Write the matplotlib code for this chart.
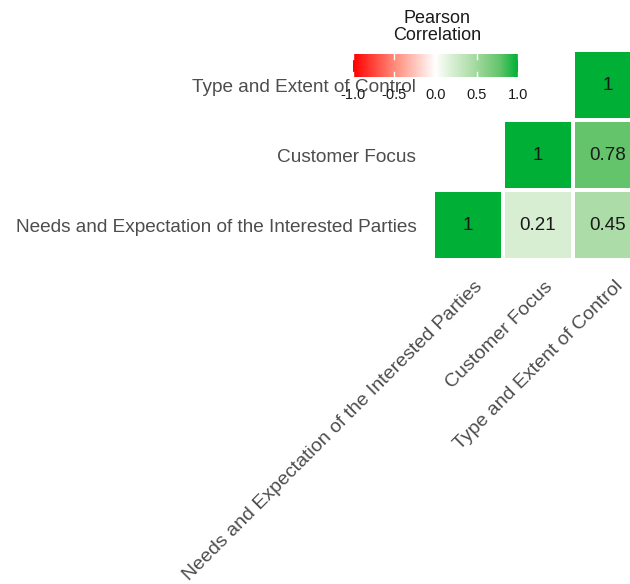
import numpy as np
import matplotlib
matplotlib.use("Agg")
from matplotlib import pyplot
from matplotlib.colors import LinearSegmentedColormap
import matplotlib.transforms as mtransforms

pyplot.rcParams["font.family"] = ["Liberation Sans", "DejaVu Sans"]

# 変数名(下から順)
variables = [
    "Needs and Expectation of the Interested Parties",
    "Customer Focus",
    "Type and Extent of Control",
]
# 下三角の相関係数 (行: 下から, 列: 左から), None は空白
corr_rows = [
    [1.0, 0.21, 0.45],
    [None, 1.0, 0.78],
    [None, None, 1.0],
]
legend_ticks = [-1.0, -0.5, 0.0, 0.5, 1.0]

# 赤-白-緑のカラーマップ
cmap = LinearSegmentedColormap.from_list(
    "rwg",
    [(0.0, "#ff0000"), (0.25, "#ff8a78"), (0.5, "#ffffff"),
     (0.6, "#d8efd4"), (0.725, "#acdca7"), (0.89, "#63c46b"), (1.0, "#00b036")])

data = np.ma.masked_invalid(np.array(
    [[np.nan if v is None else v for v in row] for row in corr_rows], dtype=float))

fig = pyplot.figure(figsize=(6.3, 5.84), dpi=100)
ax = fig.add_axes([433 / 630, 1 - 260 / 584, 210 / 630, 210 / 584])

mesh = ax.pcolormesh(data, cmap=cmap, vmin=-1, vmax=1,
                     edgecolors="white", linewidth=1.5)

n = len(variables)
for i in range(n):
    for j in range(n):
        v = corr_rows[i][j]
        if v is None:
            continue
        ax.text(j + 0.5, i + 0.5, f"{v:g}", ha="center", va="center",
                fontsize=13.5, color="#1a1a1a")

ax.set_xlim(0, n)
ax.set_ylim(0, n)
ax.set_xticks(np.arange(n) + 0.5)
ax.set_yticks(np.arange(n) + 0.5)
ax.set_yticklabels(variables, fontsize=13.7, color="#4d4d4d")
ax.set_xticklabels([])
ax.tick_params(axis="both", length=0)
ax.tick_params(axis="y", pad=12)
for s in ax.spines.values():
    s.set_visible(False)

# x軸ラベル (45度回転, 右上を基準に少しずらす)
xlab_trans = ax.get_xaxis_transform() + mtransforms.ScaledTranslation(
    6 / 100, -18 / 100, fig.dpi_scale_trans)
for j, name in enumerate(variables):
    ax.text(j + 0.5, 0, name, transform=xlab_trans, fontsize=14,
            color="#4d4d4d", rotation=45, ha="right", va="top",
            rotation_mode="anchor", clip_on=False)

# 凡例 (カラーバー)
cax = fig.add_axes([353 / 630, 1 - 77 / 584, 165 / 630, 23 / 584])
cb = fig.colorbar(mesh, cax=cax, orientation="horizontal", ticks=legend_ticks)
cb.outline.set_visible(False)
cb.ax.tick_params(length=0, labelsize=10.5, colors="#1a1a1a", pad=8)
cb.ax.set_xticklabels([f"{t:.1f}" for t in legend_ticks])
for t in legend_ticks:
    cax.plot([t, t], [0, 0.2], color="white", lw=1)
    cax.plot([t, t], [0.8, 1], color="white", lw=1)
fig.text(437 / 630, 1 - 27 / 584, "Pearson\nCorrelation", ha="center",
         va="center", fontsize=13, color="#1a1a1a", linespacing=1.05)

fig.savefig("out.png", dpi=100)
